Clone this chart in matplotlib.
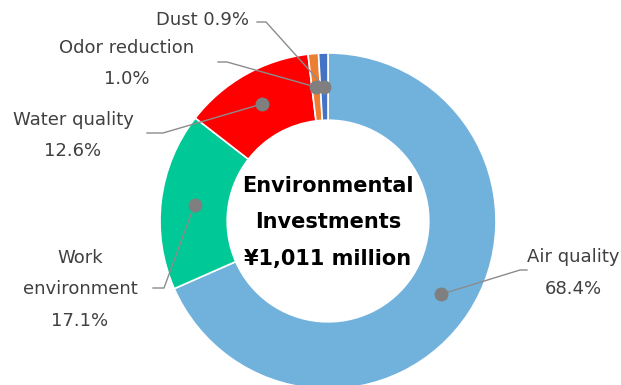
import numpy as np
import matplotlib
matplotlib.use("Agg")
import matplotlib.pyplot as plt

# data (clockwise from 12 o'clock)
categories = ["Air quality", "Work environment", "Water quality", "Odor reduction", "Dust"]
shares = [68.4, 17.1, 12.6, 1.0, 0.9]
colors = ["#71B2DD", "#00C896", "#FF0000", "#ED7D31", "#4472C4"]
label_lines = [["Air quality", "68.4%"], ["Work", "environment", "17.1%"],
               ["Water quality", "12.6%"], ["Odor reduction", "1.0%"], ["Dust 0.9%"]]
center_lines = ["Environmental", "Investments", "\u00a51,011 million"]

W, H = 621, 385
fig = plt.figure(figsize=(W / 100, H / 100), dpi=100)
ax = fig.add_axes([0, 0, 1, 1])

cx, cy, R = 328, 164, 168
ring = 0.40 * R
wedges, _ = ax.pie(shares, colors=colors, startangle=90, counterclock=False,
                   center=(cx, cy), radius=R,
                   wedgeprops=dict(width=ring, edgecolor="white", linewidth=1.2))
ax.set_xlim(0, W)
ax.set_ylim(0, H)
ax.set_aspect("auto")
ax.axis("off")

# label layout: elbow, line end, text x, first line y (pixels from top)
layout = [
    ((520, 115), (527, 115), 573, 257),
    ((164, 97), (153, 97), 80, 258),
    ((163, 252), (147, 252), 73, 120),
    ((227, 323), (218, 323), 127, 48),
    ((266, 363), (257, 363), 203, 20),
]
step = 31.5

line_col = "#8C8C8C"
txt_col = "#404040"
cum = 0
for i, s in enumerate(shares):
    mid = np.deg2rad(90 - (cum + s / 2) * 3.6)
    cum += s
    r_mid = R - ring / 2
    px, py = cx + r_mid * np.cos(mid), cy + r_mid * np.sin(mid)
    elbow, end, tx, ty = layout[i]
    ax.plot([px, elbow[0], end[0]], [py, elbow[1], end[1]], color=line_col, lw=1, zorder=3)
    ax.plot(px, py, "o", color="#7F7F7F", ms=9, zorder=4)
    for j, line in enumerate(label_lines[i]):
        ax.text(tx, H - (ty + j * step), line, ha="center", va="center",
                fontsize=13, color=txt_col)

for j, line in enumerate(center_lines):
    ax.text(cx, H - (186 + j * 36.5), line, ha="center", va="center", fontsize=15,
            fontweight="bold", color="black")

fig.savefig("out.png", dpi=100)
